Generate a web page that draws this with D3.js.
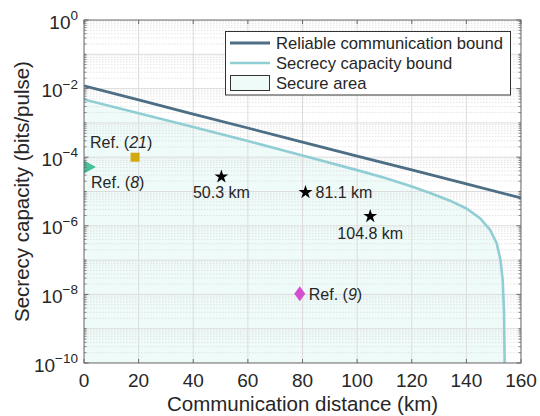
<!DOCTYPE html>
<html><head><meta charset="utf-8">
<script src="https://d3js.org/d3.v7.min.js"></script>
<style>body{margin:0;background:#fff}svg{display:block}</style>
</head><body><div id="chart"></div>
<script>
// ---- data ----
const reliableDist = [0, 20, 40, 60, 80, 100, 120, 140, 160];
const reliableCap = [1.2e-2, 4.7e-3, 1.8e-3, 7.1e-4, 2.75e-4, 1.07e-4, 4.3e-5, 1.66e-5, 6.5e-6];
const secrecyDist = [0, 20, 40, 60, 80, 100, 110, 120, 127, 134, 140, 145, 148.7, 151.1, 152.5, 153.3, 153.8, 154.0];
const secrecyCap = [4.8e-3, 1.9e-3, 7.6e-4, 2.95e-4, 1.12e-4, 4.2e-5, 2.5e-5, 1.4e-5, 8.9e-6, 5.4e-6, 3.2e-6, 1.66e-6, 7.6e-7, 3.1e-7, 1e-7, 2.6e-8, 2.8e-9, 1e-10];
const starDist = [50.3, 81.1, 104.8];
const starCap = [2.7e-5, 9.5e-6, 1.9e-6];
const starLabels = ["50.3 km", "81.1 km", "104.8 km"];
const refNames = ["21", "8", "9"];
const refDist = [18.7, 0, 79];
const refCap = [1e-4, 5.2e-5, 1.05e-8];
const xTicks = [0, 20, 40, 60, 80, 100, 120, 140, 160];
const yTickExps = [0, -2, -4, -6, -8, -10];
const legendLabels = ["Reliable communication bound", "Secrecy capacity bound", "Secure area"];

const W = 540, H = 416;
const m = {l: 84, r: 19, t: 20, b: 53};
const svg = d3.select("#chart").append("svg").attr("width", W).attr("height", H)
  .style("font-family", "'Liberation Sans', Arial, Helvetica, sans-serif");
const x = d3.scaleLinear().domain([0, 160]).range([m.l, W - m.r]);
const y = d3.scaleLog().domain([1e-10, 1]).range([H - m.b, m.t]);
const axisCol = "#6a6a6a", textCol = "#262626";
const relCol = "#4d6e84", secCol = "#91cdd4", fillCol = "#effbf9";

svg.append("defs").append("clipPath").attr("id", "clip")
  .append("rect").attr("x", m.l).attr("y", m.t).attr("width", x(160) - m.l).attr("height", y(1e-10) - m.t);

const plot = svg.append("g").attr("clip-path", "url(#clip)");
// secure area fill
const secPts = secrecyDist.map((d, i) => [d, secrecyCap[i]]);
plot.append("path")
  .datum(secPts.concat([[154.0, 1e-10], [0, 1e-10]]))
  .attr("d", d3.line().x(d => x(d[0])).y(d => y(d[1])))
  .attr("fill", fillCol).attr("stroke", "none");

// grid
const minorVals = [];
for (let e = -10; e < 0; e++) for (let k = 2; k <= 9; k++) minorVals.push(k * Math.pow(10, e));
plot.append("g").selectAll("line").data(minorVals).join("line")
  .attr("x1", m.l).attr("x2", x(160)).attr("y1", d => y(d)).attr("y2", d => y(d))
  .attr("stroke", "#d9d9d9").attr("stroke-width", 0.7).attr("stroke-dasharray", "1.5,1.5");
plot.append("g").selectAll("line").data(d3.range(-10, 1)).join("line")
  .attr("x1", m.l).attr("x2", x(160)).attr("y1", d => y(Math.pow(10, d))).attr("y2", d => y(Math.pow(10, d)))
  .attr("stroke", "#dcdcdc").attr("stroke-width", 1);
plot.append("g").selectAll("line").data(xTicks).join("line")
  .attr("x1", d => x(d)).attr("x2", d => x(d)).attr("y1", m.t).attr("y2", y(1e-10))
  .attr("stroke", "#dcdcdc").attr("stroke-width", 1);

// curves
const line = d3.line().x(d => x(d[0])).y(d => y(d[1]));
plot.append("path").datum(secPts).attr("d", line)
  .attr("fill", "none").attr("stroke", secCol).attr("stroke-width", 2.6);
plot.append("path").datum(reliableDist.map((d, i) => [d, reliableCap[i]])).attr("d", line)
  .attr("fill", "none").attr("stroke", relCol).attr("stroke-width", 2.8);

// reference markers
plot.append("rect").attr("x", x(refDist[0]) - 4.5).attr("y", y(refCap[0]) - 4.5)
  .attr("width", 9).attr("height", 9).attr("fill", "#d4a90c");
const tx = x(refDist[1]), ty = y(refCap[1]);
plot.append("path").attr("d", `M${tx},${ty - 6.5}L${tx + 12},${ty}L${tx},${ty + 6.5}Z`).attr("fill", "#46c19c");
const dx = x(refDist[2]), dy = y(refCap[2]);
plot.append("path").attr("d", `M${dx},${dy - 7.5}L${dx + 5.5},${dy}L${dx},${dy + 7.5}L${dx - 5.5},${dy}Z`).attr("fill", "#d34fcf");
plot.append("g").selectAll("path").data(starDist).join("path")
  .attr("transform", (d, i) => `translate(${x(d)},${y(starCap[i])})`)
  .attr("d", d3.symbol().type(d3.symbolStar).size(60)).attr("fill", "#000");

// annotations
const ann = svg.append("g").attr("fill", textCol).attr("font-size", 16);
function refText(tx, ty, num) {
  const t = ann.append("text").attr("x", tx).attr("y", ty).attr("dominant-baseline", "central");
  t.append("tspan").text("Ref. (");
  t.append("tspan").attr("font-style", "italic").text(num);
  t.append("tspan").text(")");
}
refText(90, 142, refNames[0]);
refText(91, 182, refNames[1]);
refText(x(refDist[2]) + 9, y(refCap[2]) + 0.5, refNames[2]);
ann.append("text").attr("x", x(starDist[0])).attr("y", y(starCap[0]) + 16).attr("text-anchor", "middle").attr("dominant-baseline", "central").text(starLabels[0]);
ann.append("text").attr("x", x(starDist[1]) + 10).attr("y", y(starCap[1])).attr("dominant-baseline", "central").text(starLabels[1]);
ann.append("text").attr("x", x(starDist[2])).attr("y", y(starCap[2]) + 17).attr("text-anchor", "middle").attr("dominant-baseline", "central").text(starLabels[2]);

// axes box and ticks
const ax = svg.append("g").attr("stroke", axisCol).attr("fill", "none");
ax.append("rect").attr("x", m.l).attr("y", m.t).attr("width", x(160) - m.l).attr("height", y(1e-10) - m.t).attr("stroke-width", 1);
xTicks.forEach(t => {
  ax.append("line").attr("x1", x(t)).attr("x2", x(t)).attr("y1", y(1e-10)).attr("y2", y(1e-10) - 4);
  ax.append("line").attr("x1", x(t)).attr("x2", x(t)).attr("y1", m.t).attr("y2", m.t + 4);
});
for (let e = -10; e <= 0; e++) {
  const v = Math.pow(10, e);
  const len = (e % 2 === 0) ? 4.5 : 2.5;
  ax.append("line").attr("x1", m.l).attr("x2", m.l + len).attr("y1", y(v)).attr("y2", y(v));
  ax.append("line").attr("x1", x(160)).attr("x2", x(160) - len).attr("y1", y(v)).attr("y2", y(v));
}
minorVals.forEach(v => {
  ax.append("line").attr("x1", m.l).attr("x2", m.l + 2.5).attr("y1", y(v)).attr("y2", y(v)).attr("stroke-width", 0.8);
  ax.append("line").attr("x1", x(160)).attr("x2", x(160) - 2.5).attr("y1", y(v)).attr("y2", y(v)).attr("stroke-width", 0.8);
});

// tick labels
const tl = svg.append("g").attr("fill", textCol);
tl.selectAll("text.xt").data(xTicks).join("text").attr("class", "xt")
  .attr("x", d => x(d)).attr("y", y(1e-10) + 24).attr("text-anchor", "middle")
  .attr("font-size", 19).text(d => d);
yTickExps.forEach(e => {
  const t = tl.append("text").attr("x", m.l - 6).attr("y", y(Math.pow(10, e)) + 8.5).attr("text-anchor", "end").attr("font-size", 19);
  t.append("tspan").text("10");
  t.append("tspan").attr("dy", -8.5).attr("font-size", 13.5).text(e === 0 ? "0" : "\u2212" + (-e));
});

// axis labels
svg.append("text").attr("x", (m.l + x(160)) / 2).attr("y", 411).attr("text-anchor", "middle")
  .attr("font-size", 20.5).attr("fill", textCol).text("Communication distance (km)");
svg.append("text").attr("transform", `translate(29,${(m.t + y(1e-10)) / 2}) rotate(-90)`).attr("text-anchor", "middle")
  .attr("font-size", 20.5).attr("fill", textCol).text("Secrecy capacity (bits/pulse)");

// legend
const lg = svg.append("g");
lg.append("rect").attr("x", 225.5).attr("y", 31.5).attr("width", 285).attr("height", 63.5)
  .attr("fill", "#fff").attr("stroke", "#333").attr("stroke-width", 1);
const rowY = [43, 63, 83];
lg.append("line").attr("x1", 230).attr("x2", 270).attr("y1", rowY[0]).attr("y2", rowY[0]).attr("stroke", relCol).attr("stroke-width", 2.8);
lg.append("line").attr("x1", 230).attr("x2", 270).attr("y1", rowY[1]).attr("y2", rowY[1]).attr("stroke", secCol).attr("stroke-width", 2.6);
lg.append("rect").attr("x", 230.5).attr("y", rowY[2] - 7.5).attr("width", 39).attr("height", 15).attr("fill", fillCol).attr("stroke", "#333").attr("stroke-width", 1);
lg.selectAll("text").data(legendLabels).join("text")
  .attr("x", 276).attr("y", (d, i) => rowY[i]).attr("dominant-baseline", "central")
  .attr("font-size", 16.6).attr("fill", textCol).text(d => d);
</script>
</body></html>
